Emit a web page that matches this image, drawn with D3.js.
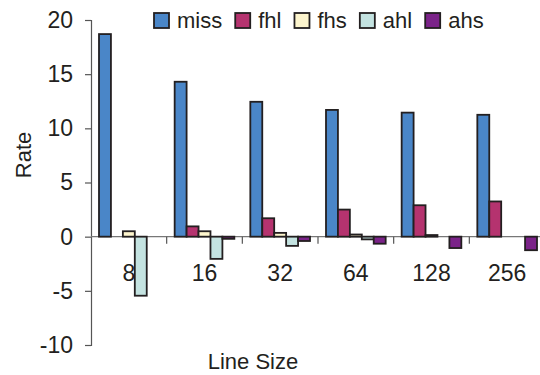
<!DOCTYPE html>
<html>
<head>
<meta charset="utf-8">
<script src="https://cdn.jsdelivr.net/npm/d3@7"></script>
<style>
  body { margin: 0; background: #fff; }
  svg text { font-family: "Liberation Sans", Arial, sans-serif; fill: #231f20; }
</style>
</head>
<body>
<svg id="chart" width="540" height="375"></svg>
<script>
'use strict';

// line sizes on the x axis
const lineSizes = ['8', '16', '32', '64', '128', '256'];
const seriesNames = ['miss', 'fhl', 'fhs', 'ahl', 'ahs'];
const seriesColors = ['#4a86c8', '#b5336f', '#fdf5cd', '#c4e3e1', '#7b2389'];

// rate values per series, one per line size
const missRate = [18.7, 14.3, 12.45, 11.7, 11.45, 11.25];
const fhlRate = [0, 0.95, 1.7, 2.5, 2.9, 3.25];
const fhsRate = [0.5, 0.5, 0.35, 0.2, 0.15, 0];
const ahlRate = [-5.45, -2.05, -0.85, -0.25, 0, 0];
const ahsRate = [0, -0.2, -0.4, -0.65, -1.05, -1.25];

const yTicks = [-10, -5, 0, 5, 10, 15, 20];

const seriesValues = [missRate, fhlRate, fhsRate, ahlRate, ahsRate];

const svg = d3.select('#chart');

const x = d3.scaleBand()
  .domain(lineSizes)
  .range([91, 545])
  .paddingInner(0);

const xInner = d3.scaleBand()
  .domain(seriesNames)
  .range([0, x.bandwidth()])
  .paddingInner(0)
  .paddingOuter(0.67);

const y = d3.scaleLinear()
  .domain([-10, 20])
  .range([345, 20]);

// flatten into bar records, zero values draw nothing
const bars = [];
seriesNames.forEach((name, si) => {
  lineSizes.forEach((size, ci) => {
    const v = seriesValues[si][ci];
    if (v !== 0) {
      bars.push({series: name, size: size, value: v, color: seriesColors[si]});
    }
  });
});

// y axis, plain hyphen for negatives like the original
const yAxis = svg.append('g')
  .attr('transform', `translate(${x.range()[0]},0)`)
  .call(d3.axisLeft(y).tickValues(yTicks).tickSize(6).tickPadding(12).tickFormat(d => String(d)));
yAxis.select('.domain').attr('stroke', '#555').attr('stroke-width', 1.2);
yAxis.selectAll('.tick line').attr('stroke', '#555').attr('stroke-width', 1.2);
yAxis.selectAll('.tick text')
  .attr('font-size', 23)
  .attr('font-family', '"Liberation Sans", Arial, sans-serif')
  .attr('fill', '#231f20');

// zero line with category separators
const xAxis = svg.append('g')
  .attr('transform', `translate(0,${y(0)})`);
xAxis.append('line')
  .attr('x1', x.range()[0])
  .attr('x2', 540)
  .attr('stroke', '#777')
  .attr('stroke-width', 1.2);
xAxis.selectAll('.sep')
  .data(lineSizes.slice(1))
  .enter().append('line')
  .classed('sep', true)
  .attr('x1', d => x(d))
  .attr('x2', d => x(d))
  .attr('y1', 0)
  .attr('y2', 7)
  .attr('stroke', '#555')
  .attr('stroke-width', 1.2);

// bars
svg.append('g').selectAll('rect')
  .data(bars)
  .enter().append('rect')
  .attr('x', d => x(d.size) + xInner(d.series))
  .attr('width', xInner.bandwidth())
  .attr('y', d => y(Math.max(0, d.value)))
  .attr('height', d => Math.abs(y(d.value) - y(0)))
  .attr('fill', d => d.color)
  .attr('stroke', '#231f20')
  .attr('stroke-width', 1.8);

// category labels sit below the zero line
svg.append('g').selectAll('text')
  .data(lineSizes)
  .enter().append('text')
  .attr('x', d => x(d) + x.bandwidth() / 2)
  .attr('y', 281)
  .attr('text-anchor', 'middle')
  .attr('font-size', 23)
  .text(d => d);

// axis titles
svg.append('text')
  .attr('transform', 'translate(31,155) rotate(-90)')
  .attr('text-anchor', 'middle')
  .attr('font-size', 22)
  .text('Rate');

svg.append('text')
  .attr('x', 253)
  .attr('y', 369)
  .attr('text-anchor', 'middle')
  .attr('font-size', 22)
  .text('Line Size');

// legend
const legend = svg.append('g').attr('transform', 'translate(154,13)');
let legendX = 0;
seriesNames.forEach((name, i) => {
  const item = legend.append('g').attr('transform', `translate(${legendX},0)`);
  item.append('rect')
    .attr('width', 15)
    .attr('height', 15)
    .attr('fill', seriesColors[i])
    .attr('stroke', '#231f20')
    .attr('stroke-width', 1.8);
  const label = item.append('text')
    .attr('x', 23)
    .attr('y', 15)
    .attr('font-size', 22)
    .text(name);
  legendX += 23 + label.node().getComputedTextLength() + 13;
});
</script>
</body>
</html>
